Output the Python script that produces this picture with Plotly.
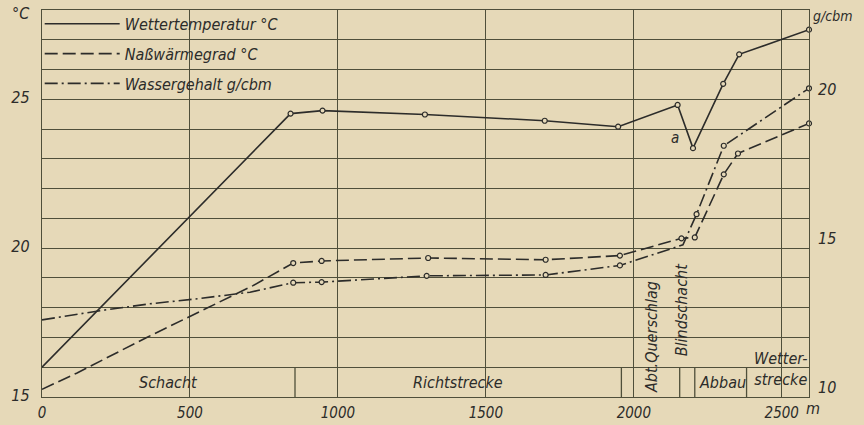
import plotly.graph_objects as go

# ---------------- data ----------------
# Wettertemperatur (°C) along the path (m)
dist_wt = [0, 840, 948, 1294, 1699, 1947, 2148, 2200, 2302, 2356, 2592]
temp_wt = [16.0, 24.52, 24.62, 24.49, 24.28, 24.08, 24.81, 23.36, 25.52, 26.51, 27.34]
meas_wt = [False, True, True, True, True, True, True, True, True, True, True]

# Naßwärmegrad (°C)
dist_nw = [0, 117, 354, 523, 713, 849, 945, 1305, 1702, 1953, 2161, 2206, 2304, 2352, 2592]
temp_nw = [15.26, 15.80, 17.0, 17.81, 18.74, 19.50, 19.57, 19.67, 19.61, 19.75,
           20.33, 20.36, 22.48, 23.18, 24.19]
meas_nw = [False, False, False, False, False, True, True, True, True, True,
           True, True, True, True, True]

# Wassergehalt (g/cbm)
dist_wg = [0, 196, 365, 534, 703, 849, 945, 1300, 1702, 1953, 2166, 2212, 2304, 2592]
water_wg = [12.59, 12.90, 13.13, 13.31, 13.52, 13.84, 13.86, 14.07, 14.10, 14.42,
            15.11, 16.14, 18.44, 20.37]
meas_wg = [False, False, False, False, False, True, True, True, True, True,
           False, True, True, True]

# sections of the path
section_bounds = [855, 1958, 2155, 2206, 2381]
section_names = ["Schacht", "Richtstrecke", "Abt.Querschlag", "Blindschacht",
                 "Abbau", "Wetter-<br>strecke"]

x_ticks = [0, 500, 1000, 1500, 2000, 2500]
x_ticktext = ["0", "500", "1000", "1500", "2000", "2500"]
y_ticks = list(range(15, 29))
y_labels = [15, 20, 25]
y2_ticks = [10, 15, 20]

# ---------------- style ----------------
FONT = "DejaVu Sans Condensed, Liberation Sans Narrow, DejaVu Sans, sans-serif"
INK = "#2c2c2a"
GRID = "#4f4f3a"
BG = "#e6d9b8"

fig = go.Figure()

fig.add_trace(go.Scatter(x=dist_wt, y=temp_wt, mode="lines",
                         name="Wettertemperatur °C", legendgroup="a",
                         line=dict(color=INK, width=1.6)))
fig.add_trace(go.Scatter(x=dist_nw, y=temp_nw, mode="lines",
                         name="Naßwärmegrad °C", legendgroup="b",
                         line=dict(color=INK, width=1.6, dash="13px,5px")))
fig.add_trace(go.Scatter(x=dist_wg, y=water_wg, mode="lines", yaxis="y2",
                         name="Wassergehalt g/cbm", legendgroup="c",
                         line=dict(color=INK, width=1.6, dash="13px,4px,2px,4px")))


def sub(xs, ys, flags):
    return [x for x, f in zip(xs, flags) if f], [y for y, f in zip(ys, flags) if f]


mk = dict(symbol="circle", size=5, color=BG, line=dict(color=INK, width=1.2))
for xs, ys, fl, ax in [(dist_wt, temp_wt, meas_wt, "y"),
                       (dist_nw, temp_nw, meas_nw, "y"),
                       (dist_wg, water_wg, meas_wg, "y2")]:
    mx, my = sub(xs, ys, fl)
    fig.add_trace(go.Scatter(x=mx, y=my, mode="markers", yaxis=ax, marker=mk,
                             showlegend=False, cliponaxis=False, hoverinfo="skip"))

shapes = []
for b in section_bounds:
    shapes.append(dict(type="line", xref="x", yref="y", x0=b, x1=b, y0=15, y1=16,
                       line=dict(color=GRID, width=1.3)))

label_x = [429, 1405, 2060, 2160, 2300, 2497]
label_y = [15.5, 15.5, 17.0, 17.95, 15.5, 15.95]
label_angle = [0, 0, -90, -90, 0, 0]
annotations = []
for name, lx, ly, ang in zip(section_names, label_x, label_y, label_angle):
    annotations.append(dict(x=lx, y=ly, xref="x", yref="y", text=name, showarrow=False,
                            textangle=ang,
                            font=dict(family=FONT, size=16, color=INK, style="italic")))

annotations += [
    dict(x=2139, y=23.7, xref="x", yref="y", text="a", showarrow=False,
         font=dict(family=FONT, size=15, color=INK, style="italic")),
    dict(x=-0.028, y=0.99, xref="paper", yref="paper", text="°C", showarrow=False,
         xanchor="center", yanchor="middle",
         font=dict(family=FONT, size=16, color=INK, style="italic")),
    dict(x=1.002, y=0.985, xref="paper", yref="paper", text="g/cbm", showarrow=False,
         xanchor="left", yanchor="middle",
         font=dict(family=FONT, size=14, color=INK, style="italic")),
    dict(x=1.005, y=-0.031, xref="paper", yref="paper", text="m", showarrow=False,
         xanchor="center", yanchor="middle",
         font=dict(family=FONT, size=16, color=INK, style="italic")),
]

tickfont = dict(family=FONT, size=16, color=INK, style="italic")
xtickfont = dict(family=FONT, size=15, color=INK, style="italic")

fig.update_layout(
    width=864, height=425,
    margin=dict(l=42, r=55, t=7, b=28),
    paper_bgcolor=BG, plot_bgcolor=BG,
    showlegend=True,
    legend=dict(x=-0.003, y=1.008, xanchor="left", yanchor="top",
                bgcolor="rgba(0,0,0,0)", itemwidth=75, tracegroupgap=6,
                font=dict(family=FONT, size=16, color=INK, style="italic")),
    xaxis=dict(range=[0, 2592], tickvals=x_ticks, ticktext=x_ticktext,
               showgrid=True, gridcolor=GRID, gridwidth=1.3, zeroline=False,
               showline=True, linecolor=GRID, linewidth=1.3, mirror=True,
               ticks="", tickfont=xtickfont, ticklabelstandoff=2, automargin=False),
    yaxis=dict(range=[15, 28], tickvals=y_ticks,
               ticktext=[str(v) if v in y_labels else "" for v in y_ticks],
               showgrid=True, gridcolor=GRID, gridwidth=1.3, zeroline=False,
               showline=True, linecolor=GRID, linewidth=1.3, mirror=True,
               ticks="", tickfont=tickfont, ticklabelstandoff=8, ticklabelshift=-2,
               automargin=False),
    yaxis2=dict(range=[10, 23], overlaying="y", side="right", tickvals=y2_ticks,
                showgrid=False, zeroline=False, ticks="", tickfont=tickfont,
                ticklabelstandoff=8, ticklabelshift=-10, automargin=False),
    shapes=shapes,
    annotations=annotations,
)

fig.write_html("out.html", config={"displayModeBar": False},
               post_script="document.body.style.margin='0';")
